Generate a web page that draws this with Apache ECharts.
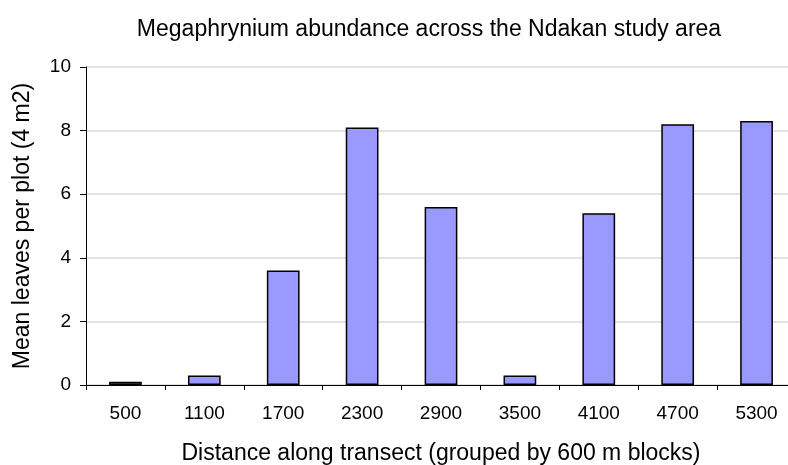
<!DOCTYPE html>
<html>
<head>
<meta charset="utf-8">
<script src="https://cdn.jsdelivr.net/npm/echarts@6/dist/echarts.min.js"></script>
<style>
  html, body { margin: 0; padding: 0; background: #fff; }
  #chart { width: 788px; height: 465px; }
</style>
</head>
<body>
<div id="chart"></div>
<script>
var categories = ['500', '1100', '1700', '2300', '2900', '3500', '4100', '4700', '5300']
var leaves = [0.1, 0.3, 3.6, 8.1, 5.6, 0.3, 5.4, 8.2, 8.3]
var yTicks = { min: 0, max: 10, interval: 2 }

var FONT = "'Liberation Sans', Arial, sans-serif"

function draw (divID) {
  var chart = echarts.init(document.getElementById(divID), null, { renderer: 'canvas' })
  var option = {
    animation: false,
    title: {
      text: 'Megaphrynium abundance across the Ndakan study area',
      left: 424,
      top: 13,
      textAlign: 'center',
      textStyle: { fontFamily: FONT, fontSize: 23, fontWeight: 'normal', color: '#000' }
    },
    grid: {
      left: 86,
      top: 67,
      width: 710,
      height: 318,
      containLabel: false,
      outerBoundsMode: 'none'
    },
    xAxis: {
      type: 'category',
      data: categories,
      name: 'Distance along transect (grouped by 600 m blocks)',
      nameLocation: 'middle',
      nameGap: 57,
      nameTextStyle: { fontFamily: FONT, fontSize: 23, color: '#000' },
      axisLine: { lineStyle: { color: '#000', width: 1 } },
      axisTick: { show: true, length: 5, lineStyle: { color: '#000' } },
      axisLabel: { fontFamily: FONT, fontSize: 19, color: '#000', margin: 19 },
      splitLine: { show: false }
    },
    yAxis: {
      type: 'value',
      min: yTicks.min,
      max: yTicks.max,
      interval: yTicks.interval,
      name: 'Mean leaves per plot (4 m2)',
      nameLocation: 'middle',
      nameGap: 52,
      nameRotate: 90,
      nameTextStyle: { fontFamily: FONT, fontSize: 23, color: '#000' },
      axisLine: { show: true, lineStyle: { color: '#000', width: 1 } },
      axisTick: { show: true, length: 6, lineStyle: { color: '#000' } },
      axisLabel: { fontFamily: FONT, fontSize: 19, color: '#000', margin: 15 },
      splitLine: { show: true, lineStyle: { color: '#d9d9d9', width: 1.5 } }
    },
    series: [{
      type: 'bar',
      data: leaves,
      barWidth: '41.5%',
      itemStyle: { color: '#9999ff', borderColor: '#000', borderWidth: 1.5 }
    }]
  }
  chart.setOption(option)
}

draw('chart')
</script>
</body>
</html>
